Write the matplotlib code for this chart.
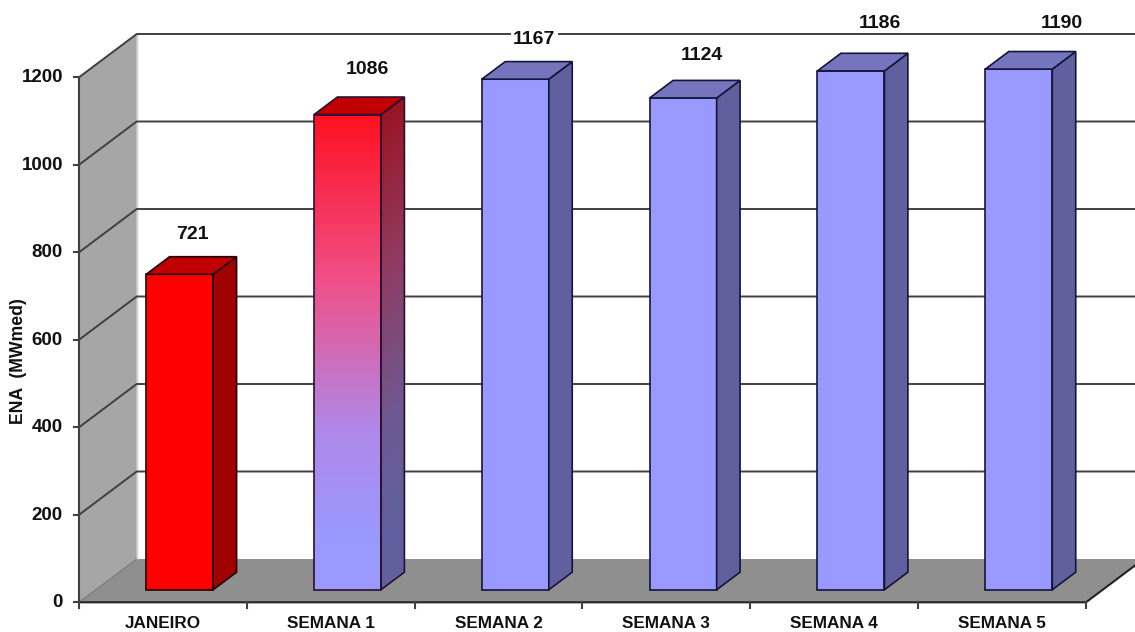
import numpy as np
import matplotlib
matplotlib.use('Agg')
import matplotlib.pyplot as plt
from matplotlib.colors import LinearSegmentedColormap
from matplotlib.patches import Polygon

plt.rcParams['font.family'] = ['Liberation Sans', 'DejaVu Sans']
plt.rcParams['font.weight'] = 'bold'

categories = ['JANEIRO', 'SEMANA 1', 'SEMANA 2', 'SEMANA 3', 'SEMANA 4', 'SEMANA 5']
values = [721, 1086, 1167, 1124, 1186, 1190]
yticks = [0, 200, 400, 600, 800, 1000, 1200]

# pixel calibration of the picture
W, H = 1135, 632
X0, CAT = 79, 167.83
Y0, PER = 602.3, 0.4375


def px(p):
    return (p - X0) / CAT - 0.5


def py(p):
    return (Y0 - p) / PER


# depth of the 3d box, in axis units
DX = 57.7 / CAT
DY = 43.3 / PER
BW = 67 / CAT
BAR_FRONT = 0.29
BAR_DEPTH = 0.406

fig = plt.figure(figsize=(W / 100, H / 100), dpi=100)
ax = fig.add_axes([0, 0, 1, 1])
ax.set_xlim(px(0), px(W))
ax.set_ylim(py(H), py(0))
ax.axis('off')

left = -0.5
right = len(categories) - 0.5
ymax = yticks[-1]
LINE = '#404040'

# walls and floor
ax.fill([left, left + DX, left + DX, left], [0, DY, ymax + DY, ymax],
        color='#a6a6a6', lw=0, zorder=1)
ax.fill([left, left + DX, right + DX, right], [0, DY, DY, 0],
        color='#8f8f8f', lw=0, zorder=1)
ax.plot([left + DX, left + DX], [DY, ymax + DY], color='#d0d0d0', lw=1.0, zorder=1.5)
ax.plot([left, left + DX], [0, DY], color='#777777', lw=0.8, zorder=1.5)

# grid
for v in yticks[1:]:
    ax.plot([left, left + DX, right + DX], [v, v + DY, v + DY], color=LINE, lw=1.4, zorder=2)

# axes and ticks
ax.plot([left, left], [0, ymax], color=LINE, lw=1.5, zorder=2)
ax.plot([left, right, right + DX], [0, 0, DY], color='#222222', lw=1.5, zorder=2)
tick_w = 4.5 / CAT
tick_h = 5.5 / PER
for v in yticks:
    ax.plot([left - tick_w, left], [v, v], color=LINE, lw=1.5, zorder=2)
    ax.text(px(63), v - 0.5 / PER, str(v), ha='right', va='center', fontsize=13.5, color='#111111')
for i in range(len(categories) + 1):
    ax.plot([left + i, left + i], [0, -tick_h], color=LINE, lw=1.5, zorder=2)

# gradient stops for the SEMANA 1 bar, bottom to top
front_cmap = LinearSegmentedColormap.from_list(
    'front', [(0, '#9999ff'), (0.1, '#9999ff'), (0.34, '#b088e8'), (0.65, '#f05088'), (1, '#ff1020')])
side_cmap = LinearSegmentedColormap.from_list(
    'side', [(0, '#60609f'), (0.1, '#60609f'), (0.34, '#6f5890'), (0.65, '#903a60'), (1, '#9b0f1a')])

blue = ('#9999ff', '#60609f', '#7575bd', '#14143c')
red = ('#ff0000', '#a00000', '#c00000', '#200000')
face = [red, None, blue, blue, blue, blue]
label_dx = [13, 19.5, 19, 19, 28.5, 43.5]
label_dy = [40, 45, 40, 42, 47, 46]

for i, v in enumerate(values):
    fx = i + DX * BAR_FRONT - BW / 2
    fy = DY * BAR_FRONT
    ddx = DX * BAR_DEPTH
    ddy = DY * BAR_DEPTH
    top_y = fy + v
    style = face[i]
    if style is None:
        style = ('none', 'none', '#c00000', '#2a1030')
    ec = style[3]
    side = [[fx + BW, fy], [fx + BW + ddx, fy + ddy], [fx + BW + ddx, top_y + ddy], [fx + BW, top_y]]
    if face[i] is None:
        grad = np.linspace(0, 1, 256).reshape(-1, 1)
        ax.imshow(grad, extent=[fx, fx + BW, fy, top_y], origin='lower', cmap=front_cmap,
                  aspect='auto', zorder=3)
        # side shading runs slightly diagonal
        gx, gy = np.meshgrid(np.linspace(0, 1, 32), np.linspace(0, 1, 256))
        im2 = ax.imshow(np.clip(gy - 0.05 * gx, 0, 1), extent=[fx + BW, fx + BW + ddx, fy, top_y + ddy],
                        origin='lower', cmap=side_cmap, aspect='auto', zorder=3)
        im2.set_clip_path(Polygon(side, transform=ax.transData))
    ax.bar(i + DX * BAR_FRONT, v, BW, bottom=fy, color=style[0], edgecolor=ec, lw=1.2, zorder=3.2)
    ax.add_patch(Polygon(side, closed=True, facecolor=style[1], edgecolor=ec, lw=1.2, zorder=3.2))
    ax.add_patch(Polygon([[fx, top_y], [fx + ddx, top_y + ddy], [fx + BW + ddx, top_y + ddy], [fx + BW, top_y]],
                         closed=True, facecolor=style[2], edgecolor=ec, lw=1.2, zorder=3.2))
    bbox = None
    if i == 2:
        bbox = dict(facecolor='white', edgecolor='none', pad=1.5)
    ax.text(fx + BW / 2 + label_dx[i] / CAT, top_y + label_dy[i] / PER, str(v), ha='center', va='center',
            fontsize=14, color='#111111', zorder=5, bbox=bbox)
    ax.text(i, py(623), categories[i], ha='center', va='center', fontsize=12.3, color='#111111')

ax.text(px(19), py(361), 'ENA  (MWmed)', rotation=90, ha='center', va='center', fontsize=12.7, color='#111111')

ax.set_xlim(px(0), px(W))
ax.set_ylim(py(H), py(0))
fig.savefig('out.png', dpi=100)
